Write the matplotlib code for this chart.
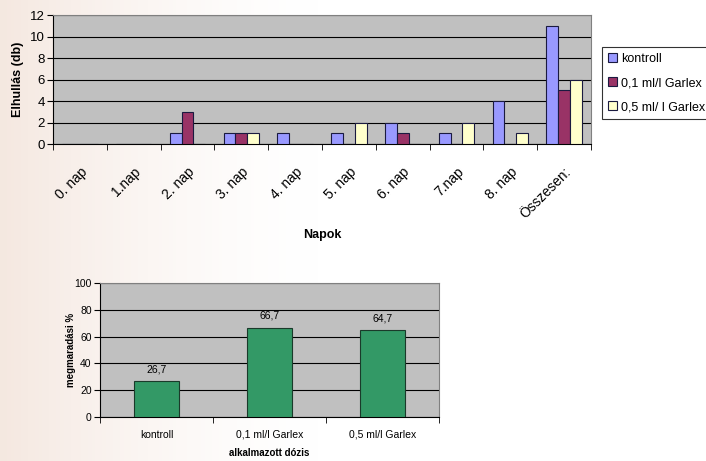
import numpy as np
import matplotlib.pyplot as plt

plt.rcParams['font.family'] = ['Liberation Sans', 'DejaVu Sans']

# napi elhullás (db)
days = ["0. nap", "1.nap", "2. nap", "3. nap", "4. nap", "5. nap",
        "6. nap", "7.nap", "8. nap", "Összesen:"]
kontroll = [0, 0, 1, 1, 1, 1, 2, 1, 4, 11]
garlex_01 = [0, 0, 3, 1, 0, 0, 1, 0, 0, 5]
garlex_05 = [0, 0, 0, 1, 0, 2, 0, 2, 1, 6]
series_names = ["kontroll", "0,1 ml/l Garlex", "0,5 ml/ l Garlex"]

# megmaradási %
doses = ["kontroll", "0,1 ml/l Garlex", "0,5 ml/l Garlex"]
survival = [26.7, 66.7, 64.7]

fig = plt.figure(figsize=(7.06, 4.61), dpi=100)

# halvány háttér a bal oldalon (a kép eredeti fotó-hátterének közelítése)
bg = fig.add_axes([0, 0, 1, 1], zorder=-10)
xx = np.linspace(0, 1, 200)
yy = np.linspace(0, 1, 130)
X, Y = np.meshgrid(xx, yy)
fade = np.clip(1 - X / 0.45, 0, 1) ** 1.5
img = np.ones((130, 200, 3))
img[..., 0] = 1 - 0.04 * fade
img[..., 1] = 1 - 0.09 * fade
img[..., 2] = 1 - 0.12 * fade
bg.imshow(img, aspect='auto', extent=[0, 1, 0, 1])
bg.axis('off')

# --- felső diagram ---
ax1 = fig.add_axes([0.0751, 0.6876, 0.762, 0.2798])
ax1.set_facecolor('#C0C0C0')
x = np.arange(len(days))
w = 0.22
colors = ['#9999FF', '#993366', '#FFFFCC']
for i, (vals, c, name) in enumerate(zip([kontroll, garlex_01, garlex_05], colors, series_names)):
    ax1.bar(x + (i - 1) * w, vals, w, color=c, edgecolor='#1a1a40', linewidth=0.8,
            label=name, zorder=3)
ax1.set_xlim(-0.5, len(days) - 0.5)
ax1.set_ylim(0, 12)
ax1.set_yticks(range(0, 13, 2))
ax1.yaxis.grid(True, color='black', linewidth=0.8, zorder=0)
ax1.set_xticks(x)
ax1.set_xticklabels(days, rotation=45, ha='right', rotation_mode='anchor', fontsize=10)
ax1.set_xticks(np.arange(-0.5, len(days), 1), minor=True)
ax1.tick_params(axis='x', which='major', length=0, pad=15)
ax1.tick_params(axis='x', which='minor', length=4, color='black')
ax1.tick_params(axis='y', labelsize=9.5, length=4, pad=2)
for side in ['top', 'right']:
    ax1.spines[side].set_color('#808080')
ax1.spines['left'].set_color('black')
ax1.spines['bottom'].set_color('black')
ax1.set_ylabel("Elhullás (db)", fontsize=9, fontweight='bold', labelpad=4)
ax1.set_xlabel("Napok", fontsize=9, fontweight='bold')
ax1.xaxis.set_label_coords(0.5, -(229 - 144) / 129)
leg = ax1.legend(loc='upper left', bbox_to_anchor=(602 / 706, 1 - 47 / 461),
                 bbox_transform=fig.transFigure, fontsize=9, frameon=True,
                 fancybox=False, edgecolor='black', handlelength=0.7,
                 handleheight=0.7, handletextpad=0.3, borderpad=0.5,
                 labelspacing=0.95, borderaxespad=0)
leg.get_frame().set_linewidth(0.8)

# --- alsó diagram ---
ax2 = fig.add_axes([0.1416, 0.0954, 0.480, 0.2907])
ax2.set_facecolor('#C0C0C0')
x2 = np.arange(len(doses))
bars = ax2.bar(x2, survival, 0.4, color='#339966', edgecolor='#1a3a2a', linewidth=0.8, zorder=3)
for xi, v in zip(x2, survival):
    ax2.text(xi, v + 5, f"{v:.1f}".replace('.', ','), ha='center', va='bottom', fontsize=7.5)
ax2.set_xlim(-0.5, len(doses) - 0.5)
ax2.set_ylim(0, 100)
ax2.set_yticks(range(0, 101, 20))
ax2.yaxis.grid(True, color='black', linewidth=0.8, zorder=0)
ax2.set_xticks(x2)
ax2.set_xticklabels(doses, fontsize=7.5)
ax2.set_xticks(np.arange(-0.5, len(doses), 1), minor=True)
ax2.tick_params(axis='x', which='major', length=0, pad=9)
ax2.tick_params(axis='x', which='minor', length=4, color='black')
ax2.tick_params(axis='y', labelsize=7.5, length=4, pad=2)
for side in ['top', 'right']:
    ax2.spines[side].set_color('#808080')
ax2.set_ylabel("megmaradási %", fontsize=7, fontweight='bold')
ax2.yaxis.set_label_coords(-(100 - 76) / 339, 0.5)
ax2.set_xlabel("alkalmazott dózis", fontsize=7, fontweight='bold')
ax2.xaxis.set_label_coords(0.5, -(448 - 417) / 134)

fig.savefig("out.png", dpi=100)
